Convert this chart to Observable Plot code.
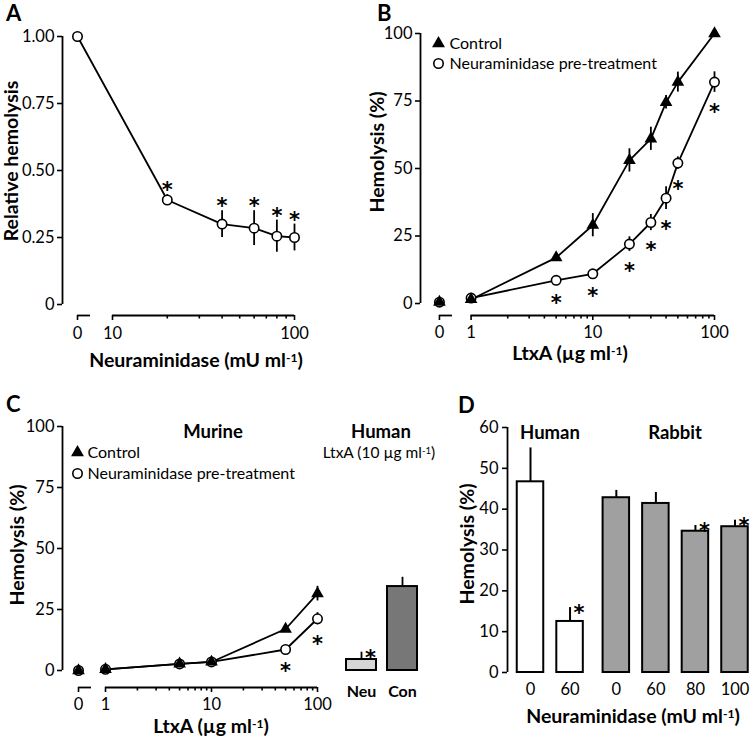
<!DOCTYPE html>
<html><head><meta charset="utf-8">
<script src="https://cdn.jsdelivr.net/npm/d3@7"></script>
<script src="https://cdn.jsdelivr.net/npm/@observablehq/plot@0.6"></script>
<style>
body{margin:0;background:#fff;font-family:Lato,'Noto Sans',sans-serif;}
#fig{position:relative;width:750px;height:736px;overflow:hidden;background:#fff;}
.lbl{position:absolute;white-space:nowrap;color:#000;line-height:1.05;font-family:Lato,'Noto Sans',sans-serif;}
.lbl sup{font-size:0.62em;position:relative;top:-0.45em;vertical-align:baseline;line-height:0;}
</style></head><body><div id="fig"></div>
<script>
// ---------------- DATA ----------------
// Panel A
const aDose = [0, 20, 40, 60, 80, 100];
const aMean = [1.00, 0.39, 0.30, 0.285, 0.255, 0.25];
const aErr  = [0, 0.02, 0.05, 0.065, 0.06, 0.05];
const aSig  = [false, true, true, true, true, true];
const aYTicks = [0, 0.25, 0.5, 0.75, 1];
const aYTickLabels = ["0", "0.25", "0.50", "0.75", "1.00"];
const aXTicks = [0, 10, 100];
const aXMinor = [20, 30, 40, 50, 60, 70, 80, 90];

// Panel B
const bDose = [0, 1, 5, 10, 20, 30, 40, 50, 100];
const bControl    = [0.5, 1.5, 17, 29, 53, 61, 74.5, 82, 100];
const bControlErr = [0, 0, 1, 4.3, 4.3, 4.3, 2.5, 3.7, 0];
const bNeu    = [0.5, 2, 8.6, 11, 22, 30, 39, 52, 82];
const bNeuErr = [0, 0.5, 1, 1, 2.7, 3, 4.2, 2.3, 3.8];
const bNeuSig = [false, false, true, true, true, true, true, true, true];
const bYTicks = [0, 25, 50, 75, 100];
const bXTicks = [0, 1, 10, 100];
const bXMinor = [2, 3, 4, 5, 6, 7, 8, 9, 20, 30, 40, 50, 60, 70, 80, 90];

// Panel C (murine, line)
const cDose = [0, 1, 5, 10, 50, 100];
const cControl    = [0, 0.5, 2.7, 3.5, 17, 31.5];
const cControlErr = [0, 0, 0.5, 0.5, 1, 3];
const cNeu    = [0, 0.5, 2.7, 3.5, 8.6, 21.2];
const cNeuErr = [0, 0, 0.5, 0.5, 1, 2.5];
const cNeuSig = [false, false, false, false, true, true];
const cYTicks = [0, 25, 50, 75, 100];
const cXTicks = [0, 1, 10, 100];
const cXMinor = [2, 3, 4, 5, 6, 7, 8, 9, 20, 30, 40, 50, 60, 70, 80, 90];

// Panel C (human, bars)
const chCats = ["Neu", "Con"];
const chMean = [4.5, 34.4];
const chErr  = [3, 3.8];
const chSig  = [true, false];

// Panel D
const dGroup = ["Human", "Human", "Rabbit", "Rabbit", "Rabbit", "Rabbit"];
const dDose  = ["0", "60", "0", "60", "80", "100"];
const dMean  = [46.7, 12.5, 42.8, 41.4, 34.6, 35.7];
const dErr   = [8.3, 3.4, 1.8, 2.7, 1.4, 1.6];
const dSig   = [false, true, false, false, true, true];
const dYTicks = [0, 10, 20, 30, 40, 50, 60];

// ---------------- LAYOUT ----------------
const FONT = "Lato, 'Noto Sans', sans-serif";
const fig = document.getElementById("fig");
const baseStyle = {fontFamily: FONT, fontSize: "16.5px", background: "transparent", overflow: "visible", color: "black"};
const LW = 1.8;
const STAR = {text: () => "*", fontSize: 21, fontWeight: "bold", fontFamily: "'DejaVu Sans', sans-serif"};
const TITLE = 19.5;

function addPlot(svg, left, top) {
  svg.style.position = "absolute"; svg.style.left = left + "px"; svg.style.top = top + "px";
  fig.appendChild(svg);
}
function label(html, x, y, {size = TITLE, weight = 700, rotate = false, anchor = "middle"} = {}) {
  const d = document.createElement("div");
  d.className = "lbl"; d.innerHTML = html;
  d.style.fontSize = size + "px"; d.style.fontWeight = weight;
  d.style.left = x + "px"; d.style.top = y + "px";
  const tx = anchor === "middle" ? "-50%" : anchor === "start" ? "0" : "-100%";
  d.style.transform = `translate(${tx},-50%)` + (rotate ? " rotate(-90deg)" : "");
  fig.appendChild(d);
}
const fmtIdx = (vals, labels) => v => { const i = vals.findIndex(t => Math.abs(t - v) < 1e-9); return i < 0 ? "" : labels[i]; };

// ---------------- PANEL A ----------------
{
  const xLo = 0.7253, zero = 0.8077, segEnd = 0.879, yLo = -0.041;
  const U = v => v === 0 ? zero : Math.log10(v);
  const data = aDose.map((d, i) => ({u: U(d), mean: aMean[i], err: aErr[i], sig: aSig[i]}));
  const majorU = aXTicks.map(U);
  const svg = Plot.plot({
    width: 375, height: 370, marginLeft: 62, marginRight: 81, marginTop: 36, marginBottom: 55,
    style: baseStyle,
    x: {type: "linear", domain: [xLo, 2]},
    y: {domain: [yLo, 1]},
    marks: [
      Plot.ruleX([xLo], {y1: 0, y2: 1, strokeWidth: LW}),
      Plot.ruleY([[zero, segEnd], [1, 2]], {x1: d => d[0], x2: d => d[1], y: () => yLo, strokeWidth: LW}),
      Plot.axisY(aYTicks, {tickSize: 5, tickPadding: 3, tickFormat: fmtIdx(aYTicks, aYTickLabels), label: null, strokeWidth: 1.6}),
      Plot.axisX(majorU, {tickSize: 5, tickPadding: 7, tickFormat: fmtIdx(majorU, aXTicks.map(String)), label: null, strokeWidth: 1.6}),
      Plot.axisX(aXMinor.map(U), {tickSize: 3.5, tickFormat: () => "", label: null, strokeWidth: 1.6}),
      Plot.ruleX(data, {x: "u", y1: d => d.mean - d.err, y2: d => d.mean + d.err, strokeWidth: LW}),
      Plot.line(data, {x: "u", y: "mean", strokeWidth: LW}),
      Plot.dot(data, {x: "u", y: "mean", r: 4.7, fill: "white", stroke: "black", strokeWidth: 1.6}),
      Plot.text(data.filter(d => d.sig), {x: "u", y: d => d.mean + d.err, dy: -4, ...STAR})
    ]
  });
  addPlot(svg, 0, 0);
}

// ---------------- PANEL B ----------------
{
  const xLo = -0.4156, zero = -0.26, segEnd = -0.153, yLo = -4.44;
  const U = v => v === 0 ? zero : Math.log10(v);
  const ctl = bDose.map((d, i) => ({u: U(d), dose: d, mean: bControl[i], err: bControlErr[i]}));
  const neu = bDose.map((d, i) => ({u: U(d), dose: d, mean: bNeu[i], err: bNeuErr[i], sig: bNeuSig[i]}));
  const majorU = bXTicks.map(U);
  const svg = Plot.plot({
    width: 375, height: 370, marginLeft: 45, marginRight: 36, marginTop: 33, marginBottom: 55,
    style: baseStyle,
    x: {type: "linear", domain: [xLo, 2]},
    y: {domain: [yLo, 100]},
    marks: [
      Plot.ruleX([xLo], {y1: 0, y2: 100, strokeWidth: LW}),
      Plot.ruleY([[zero, segEnd], [0, 2]], {x1: d => d[0], x2: d => d[1], y: () => yLo, strokeWidth: LW}),
      Plot.axisY(bYTicks, {tickSize: 5, tickPadding: 3, label: null, strokeWidth: 1.6}),
      Plot.axisX(majorU, {tickSize: 5, tickPadding: 6, tickFormat: fmtIdx(majorU, bXTicks.map(String)), label: null, strokeWidth: 1.6}),
      Plot.axisX(bXMinor.map(U), {tickSize: 3.5, tickFormat: () => "", label: null, strokeWidth: 1.6}),
      Plot.line(ctl.filter(d => d.dose > 0), {x: "u", y: "mean", strokeWidth: LW}),
      Plot.line(neu.filter(d => d.dose > 0), {x: "u", y: "mean", strokeWidth: LW}),
      Plot.ruleX(ctl, {x: "u", y1: d => d.mean - d.err, y2: d => d.mean + d.err, strokeWidth: LW}),
      Plot.ruleX(neu, {x: "u", y1: d => d.mean - d.err, y2: d => d.mean + d.err, strokeWidth: LW}),
      Plot.dot(neu, {x: "u", y: "mean", r: 4.7, fill: "white", stroke: "black", strokeWidth: 1.6}),
      Plot.dot(ctl, {x: "u", y: "mean", r: 4.7, symbol: "triangle", fill: "black"}),
      Plot.text(neu.filter(d => d.sig), {x: "u", y: d => d.mean - d.err, dy: 20, ...STAR}),
      // legend
      Plot.dot(["Control"], {frameAnchor: "top-left", dx: 18, dy: 10, symbol: "triangle", fill: "black", r: 4.8}),
      Plot.text(["Control"], {frameAnchor: "top-left", dx: 29, dy: 10, text: d => d, textAnchor: "start", lineAnchor: "middle", fontSize: 16}),
      Plot.dot(["Neuraminidase pre-treatment"], {frameAnchor: "top-left", dx: 18, dy: 30, fill: "white", stroke: "black", strokeWidth: 1.6, r: 4.7}),
      Plot.text(["Neuraminidase pre-treatment"], {frameAnchor: "top-left", dx: 29, dy: 30, text: d => d, textAnchor: "start", lineAnchor: "middle", fontSize: 16})
    ]
  });
  addPlot(svg, 375, 0);
}

// ---------------- PANEL C (line) ----------------
{
  const xLo = -0.4057, zero = -0.2547, segEnd = -0.132, yLo = -6.97;
  const U = v => v === 0 ? zero : Math.log10(v);
  const ctl = cDose.map((d, i) => ({u: U(d), dose: d, mean: cControl[i], err: cControlErr[i]}));
  const neu = cDose.map((d, i) => ({u: U(d), dose: d, mean: cNeu[i], err: cNeuErr[i], sig: cNeuSig[i]}));
  const majorU = cXTicks.map(U);
  const svg = Plot.plot({
    width: 335, height: 366, marginLeft: 62, marginRight: 18, marginTop: 56, marginBottom: 49,
    style: baseStyle,
    x: {type: "linear", domain: [xLo, 2]},
    y: {domain: [yLo, 100]},
    marks: [
      Plot.ruleX([xLo], {y1: 0, y2: 100, strokeWidth: LW}),
      Plot.ruleY([[zero, segEnd], [0, 2]], {x1: d => d[0], x2: d => d[1], y: () => yLo, strokeWidth: LW}),
      Plot.axisY(cYTicks, {tickSize: 5, tickPadding: 3, label: null, strokeWidth: 1.6}),
      Plot.axisX(majorU, {tickSize: 5, tickPadding: 6, tickFormat: fmtIdx(majorU, cXTicks.map(String)), label: null, strokeWidth: 1.6}),
      Plot.axisX(cXMinor.map(U), {tickSize: 3.5, tickFormat: () => "", label: null, strokeWidth: 1.6}),
      Plot.line(ctl.filter(d => d.dose > 0), {x: "u", y: "mean", strokeWidth: LW}),
      Plot.line(neu.filter(d => d.dose > 0), {x: "u", y: "mean", strokeWidth: LW}),
      Plot.ruleX(ctl, {x: "u", y1: d => d.mean - d.err, y2: d => d.mean + d.err, strokeWidth: LW}),
      Plot.ruleX(neu, {x: "u", y1: d => d.mean - d.err, y2: d => d.mean + d.err, strokeWidth: LW}),
      Plot.dot(neu, {x: "u", y: "mean", r: 4.7, fill: "white", stroke: "black", strokeWidth: 1.6}),
      Plot.dot(ctl, {x: "u", y: "mean", r: 4.7, symbol: "triangle", fill: "black"}),
      Plot.text(neu.filter(d => d.sig), {x: "u", y: d => d.mean - d.err, dy: 19, ...STAR}),
      Plot.dot(["Control"], {frameAnchor: "top-left", dx: 15, dy: 26, symbol: "triangle", fill: "black", r: 4.8}),
      Plot.text(["Control"], {frameAnchor: "top-left", dx: 25, dy: 26, text: d => d, textAnchor: "start", lineAnchor: "middle", fontSize: 16}),
      Plot.dot(["Neuraminidase pre-treatment"], {frameAnchor: "top-left", dx: 15, dy: 47, fill: "white", stroke: "black", strokeWidth: 1.6, r: 4.7}),
      Plot.text(["Neuraminidase pre-treatment"], {frameAnchor: "top-left", dx: 25, dy: 47, text: d => d, textAnchor: "start", lineAnchor: "middle", fontSize: 16})
    ]
  });
  addPlot(svg, 0, 370);
}

// ---------------- PANEL C (human bars) ----------------
{
  const yLo = -6.97;
  const data = chCats.map((c, i) => ({cat: c, mean: chMean[i], err: chErr[i], sig: chSig[i]}));
  const svg = Plot.plot({
    width: 95, height: 366, marginLeft: 11, marginRight: 13, marginTop: 56, marginBottom: 49,
    style: baseStyle,
    x: {type: "band", domain: chCats, paddingInner: 0.27, paddingOuter: 0, axis: null},
    y: {domain: [yLo, 100], axis: null},
    marks: [
      Plot.ruleX(data, {x: "cat", y1: "mean", y2: d => d.mean + d.err, strokeWidth: LW}),
      Plot.barY(data.filter(d => d.cat === "Neu"), {x: "cat", y1: 0, y2: "mean", fill: "#d6d6d6", stroke: "black", strokeWidth: 2}),
      Plot.barY(data.filter(d => d.cat === "Con"), {x: "cat", y1: 0, y2: "mean", fill: "#777777", stroke: "black", strokeWidth: 2}),
      Plot.text(data.filter(d => d.sig), {x: "cat", y: d => d.mean + d.err, dx: 9, dy: 6, ...STAR}),
      Plot.text(data, {x: "cat", text: "cat", frameAnchor: "bottom", dy: 4, lineAnchor: "middle", fontSize: 16, fontWeight: "bold"})
    ]
  });
  addPlot(svg, 335, 370);
}

// ---------------- PANEL D ----------------
{
  const groupGap = 0.17, halfW = 0.335;
  const data = dDose.map((d, i) => ({pos: i + (dGroup[i] === "Rabbit" ? groupGap : 0), group: dGroup[i], dose: d, mean: dMean[i], err: dErr[i], sig: dSig[i]}));
  const pos = data.map(d => d.pos);
  const xLo = -0.5815;
  const svg = Plot.plot({
    width: 320, height: 366, marginLeft: 77, marginRight: 0, marginTop: 57, marginBottom: 64,
    style: baseStyle,
    x: {type: "linear", domain: [xLo, 5.562]},
    y: {domain: [0, 60]},
    marks: [
      Plot.ruleX([xLo], {y1: 0, y2: 60, strokeWidth: LW}),
      Plot.axisY(dYTicks, {tickSize: 5, tickPadding: 4, label: null, strokeWidth: 1.6}),
      Plot.axisX(pos, {tickSize: 0, tickPadding: 11, tickFormat: fmtIdx(pos, dDose), label: null}),
      Plot.ruleX(data, {x: "pos", y1: "mean", y2: d => d.mean + d.err, strokeWidth: 2}),
      Plot.rectY(data.filter(d => d.group === "Human"), {x1: d => d.pos - halfW, x2: d => d.pos + halfW, y1: 0, y2: "mean", fill: "white", stroke: "black", strokeWidth: 2}),
      Plot.rectY(data.filter(d => d.group === "Rabbit"), {x1: d => d.pos - halfW, x2: d => d.pos + halfW, y1: 0, y2: "mean", fill: "#a0a0a0", stroke: "black", strokeWidth: 2}),
      Plot.text(data.filter(d => d.sig), {x: "pos", y: d => d.mean + d.err, dx: 9, dy: 6, ...STAR})
    ]
  });
  addPlot(svg, 430, 370);
}

// ---------------- TEXT LABELS ----------------
label("A", 6, 13, {size: 22, anchor: "start"});
label("B", 377, 13, {size: 22, anchor: "start"});
label("C", 6, 404, {size: 22, anchor: "start"});
label("D", 458, 405, {size: 22, anchor: "start"});

label("Relative hemolysis", 11, 161, {rotate: true});
label("Neuraminidase (mU ml<sup>-1</sup>)", 196, 360);
label("Hemolysis (%)", 377, 152, {rotate: true});
label("LtxA (µg ml<sup>-1</sup>)", 570, 353);

label("Hemolysis (%)", 17, 545, {rotate: true});
label("LtxA (µg ml<sup>-1</sup>)", 211, 726);
label("Murine", 213, 432, {size: 18.5});
label("Human", 381, 432, {size: 18.5});
label("LtxA (10 µg ml<sup>-1</sup>)", 379, 452, {size: 15.5, weight: 400});

label("Hemolysis (%)", 467, 544, {rotate: true});
label("Neuraminidase (mU ml<sup>-1</sup>)", 633, 716);
label("Human", 550, 433, {size: 18.5});
label("Rabbit", 675, 433, {size: 18.5});
</script></body></html>
